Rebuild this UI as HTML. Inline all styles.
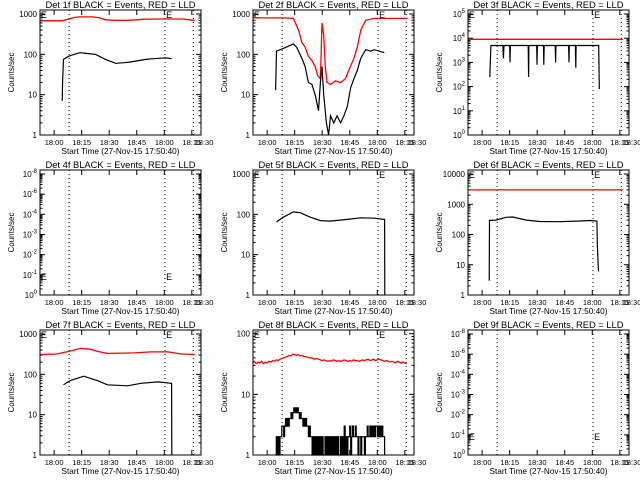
<!DOCTYPE html>
<html><head><meta charset="utf-8"><style>
html,body{margin:0;padding:0;background:#fff;}
svg{display:block;font-family:"Liberation Sans",sans-serif;}
</style></head><body>
<svg id="chart" width="640" height="480" viewBox="0 0 640 480" xmlns="http://www.w3.org/2000/svg"></svg>
<script>
// ---- data (time in minutes relative to 18:00) ----
const xTickTimes = [0, 15, 30, 45, 60, 75, 80];
const xTickLabels = ["18:00","18:15","18:30","18:45","18:00","18:15","18:30"];
const dottedTimes = [8.2, 60.4, 75.8];

const p1BlackT = [4.4,4.6,5.1,8,11,14,18,22.5,28,33.5,38,42,46,50,54,58,61,64];
const p1BlackV = [7,22,75,90,100,110,105,100,75,60,62,65,70,75,78,80,82,78];
const p1RedT = [-7.7,4.4,8,11,14,21,25,28,33,40,45,48,55,62,70,75.8,76.5];
const p1RedV = [680,680,750,820,850,850,800,720,700,700,720,740,750,750,750,700,680];

const p2BlackT = [4.6,5.1,8.8,14.3,16.1,18.9,20.7,22.5,24.4,26.2,28.0,29.0,29.9,30.8,32.3,33.5,34.5,36.3,38.1,40.0,41.8,43.6,45.5,47.3,49.1,51.0,53.7,56.5,58.3,61.0,63.8];
const p2BlackV = [13,120,140,180,150,80,50,20,18,10,4,20,50,10,2,1,3,2,3,2,3,5,15,25,40,80,130,120,130,120,110];
const p2RedT = [-7.7,8.8,14.3,17.1,18.9,20.7,22.5,24.4,26.2,27.5,29.0,29.9,30.8,31.7,32.6,34.5,37.2,40.0,42.7,44.5,47.3,49.1,51.0,53.7,58.3,76.6];
const p2RedV = [800,800,780,400,200,150,90,70,50,30,25,600,300,50,20,18,22,20,25,40,80,150,400,700,780,780];

const p3BlackT = [4.2,4.8,5.0,11.3,11.6,11.9,15.0,15.2,15.4,25.1,25.3,25.5,29.7,29.9,30.1,33.4,33.6,33.8,39.8,40.0,40.2,47.1,47.3,47.5,50.8,51.0,51.2,63.5,63.8];
const p3BlackV = [250,5000,5000,5000,1500,5000,5000,1000,5000,5000,250,5000,5000,800,5000,5000,800,5000,5000,1000,5000,5000,1000,5000,5000,600,5000,5000,80];
const p3RedT = [-7.7, 76.6];
const p3RedV = [9000, 9000];

const p5BlackT = [5.1,8.8,14.3,18,23.5,29,34.5,43.6,51,58.3,63.8,64,64.1];
const p5BlackV = [65,85,115,110,85,70,68,75,82,80,75,75,1];

const p6BlackT = [3.85,4.0,7.5,13,16.7,24,31.4,42.4,53.4,58.8,62.5,62.8,63.4];
const p6BlackV = [3,290,300,370,380,300,270,265,280,290,280,40,6];
const p6RedT = [-7.7, 76.6];
const p6RedV = [3000, 3000];

const p7BlackT = [5.1,8.8,16.1,23.5,29,40,47.3,56.5,63.8,64,64.1];
const p7BlackV = [55,70,90,70,55,52,60,65,60,60,1];
const p7RedT = [-7.7,1.5,8.8,14.3,19.8,23.5,29,43.6,52.8,62,69.3,76.6];
const p7RedV = [310,320,380,440,420,370,330,340,360,360,320,310];

const p8RedStart = -8, p8RedStep = 1;
const p8RedV = [33,35,32,34,33,35,32,34,33,35,34,36,35,37,36,38,39,40,41,42,44,43,46,45,44,45,43,44,42,42,41,40,40,39,38,39,38,37,36,37,36,35,36,35,37,36,35,36,35,36,37,36,35,36,35,37,36,36,35,36,37,36,37,38,36,37,38,36,37,38,37,36,35,36,35,34,35,34,33,35,34,33,34,33,32];
const p8BlackStart = 4.5, p8BlackStep = 0.5;
const p8BlackV = [1,2,1,2,1,2,2,3, 3,2,3,4,3,4,3,4, 4,5,4,5,6,5,6,5, 6,5,4,5,4,4,3,4, 3,4,3,3,2,3,2,2, 1,2,1,2,1,2,1,2, 1,2,1,2,1,1,2,1, 2,1,2,1,2,1,2,1, 2,1,2,1,2,1,1,2, 1,2,1,3,1,2,1,2, 2,3,1,2,3,2,2,3, 2,2,1,2,2,1,2,2, 2,1,2,2,3,2,2,3, 2,3,2,3,2,3,3,2, 3,2,3,2,3,2,2,1];

function seqT(start, step, n){ const a=[]; for(let i=0;i<n;i++) a.push(start+i*step); return a; }

const NS="http://www.w3.org/2000/svg";
const svg=document.getElementById('chart');
function mk(tag, attrs, parent){ const e=document.createElementNS(NS,tag); for(const k in attrs) e.setAttribute(k,attrs[k]); (parent||svg).appendChild(e); return e; }

const colLeft=[40,253,468], rowTop=[10,170,330], W=161, H=125;
const T0=-7.7, T1=80;

const panels = [
 {n:1,c:0,r:0,top:1257,labels:["1","10","100","1000"],series:[[p1RedT,p1RedV,'red'],[p1BlackT,p1BlackV,'black']],eTop:true},
 {n:2,c:1,r:0,top:1257,labels:["1","10","100","1000"],series:[[p2RedT,p2RedV,'red'],[p2BlackT,p2BlackV,'black']],eTop:true},
 {n:3,c:2,r:0,top:147000,labels:["10|0","10|1","10|2","10|3","10|4","10|5"],series:[[p3RedT,p3RedV,'red'],[p3BlackT,p3BlackV,'black']],eTop:true},
 {n:4,c:0,r:1,top:1.2e6,labels:["10|0","10|-1","10|-2","10|-3","10|-4","10|-6","10|-8"],series:[],eTop:false,dummy:true},
 {n:5,c:1,r:1,top:1257,labels:["1","10","100","1000"],series:[[p5BlackT,p5BlackV,'black']],eTop:true},
 {n:6,c:2,r:1,top:13600,labels:["1","10","100","1000","10000"],series:[[p6RedT,p6RedV,'red'],[p6BlackT,p6BlackV,'black']],eTop:true},
 {n:7,c:0,r:2,top:1257,labels:["1","10","100","1000"],series:[[p7RedT,p7RedV,'red'],[p7BlackT,p7BlackV,'black']],eTop:true},
 {n:8,c:1,r:2,top:115,labels:["1","10","100"],series:[[seqT(p8RedStart,p8RedStep,p8RedV.length),p8RedV,'red'],[seqT(p8BlackStart,p8BlackStep,p8BlackV.length),p8BlackV,'black',true]],eTop:true},
 {n:9,c:2,r:2,top:1.2e6,labels:["10|0","10|-1","10|-2","10|-3","10|-4","10|-6","10|-8"],series:[],eTop:false,dummy:true}
];

panels.forEach(p=>{
  const L=colLeft[p.c], Tp=rowTop[p.r], B=Tp+H;
  const g=mk('g',{});
  
  
  const xs=t=>L+(t-T0)/(T1-T0)*W;
  const logTop=Math.log10(p.top);
  const ys=v=>B-(Math.log10(Math.max(v,1)))/logTop*H;
  const decPx = H/logTop;
  const title=mk('text',{x:L+W/2,y:Tp-2,'text-anchor':'middle','font-size':'9',textLength:'150',lengthAdjust:'spacingAndGlyphs'},g);
  title.textContent='Det '+p.n+'f BLACK = Events, RED = LLD';
  
  
  const nlab=p.labels.length;
  for(let i=0;i<nlab;i++){
    const y = p.dummy ? B - i*(H-4)/(nlab-1) : B - i*decPx;
    mk('line',{x1:L,x2:L+5,y1:y,y2:y,stroke:'#000'},g);
    mk('line',{x1:L+W-5,x2:L+W,y1:y,y2:y,stroke:'#000'},g);
    const parts=p.labels[i].split('|');
    const tx=mk('text',{x:L-3,y:y+3,'text-anchor':'end','font-size':'8'},g);
    
    
    if(parts.length===1){ tx.textContent=parts[0]; }
    else { tx.textContent=parts[0]; const s=mk('tspan',{dy:'-4','font-size':'6'},tx); s.textContent=parts[1]; }
    if(i<nlab-1){
      const step = p.dummy ? (H-4)/(nlab-1) : decPx;
      for(let m=2;m<10;m++){
        const my=y-Math.log10(m)*step;
        mk('line',{x1:L,x2:L+2.5,y1:my,y2:my,stroke:'#000'},g);
        mk('line',{x1:L+W-2.5,x2:L+W,y1:my,y2:my,stroke:'#000'},g);
      }
    }
  }
  xTickTimes.forEach((t,i)=>{
    const x=xs(t);
    const last = i===xTickTimes.length-1;
    if(!last){
      mk('line',{x1:x,x2:x,y1:B,y2:B-5,stroke:'#000'},g);
      mk('line',{x1:x,x2:x,y1:Tp,y2:Tp+5,stroke:'#000'},g);
    }
    const tl=mk('text',{x:last?x+3:x,y:B+10,'text-anchor':'middle','font-size':'7.5'},g);
    tl.textContent=xTickLabels[i];
    
    
  });
  const xt=mk('text',{x:L+W/2,y:B+19,'text-anchor':'middle','font-size':'8.5',textLength:'118',lengthAdjust:'spacingAndGlyphs'},g);
  xt.textContent='Start Time (27-Nov-15 17:50:40)';
  
  
  const yt=mk('text',{x:0,y:0,'text-anchor':'middle','font-size':'8',transform:`translate(${L-26},${Tp+H/2}) rotate(-90)`},g);
  yt.textContent='Counts/sec';
  
  
  dottedTimes.forEach(t=>{
    const dl=mk('line',{x1:xs(t),x2:xs(t),y1:Tp,y2:B,stroke:'#000','stroke-dasharray':'1 3'},g);
    
    
  });
  const eY = p.eTop ? Tp+8 : B-15;
  [-7.2,61].forEach(t=>{
    const e=mk('text',{x:xs(t),y:eY,'font-size':'9'},g);
    e.textContent='E';
    
    
  });
  p.series.forEach(s=>{
    const [tt,vv,col,step]=s;
    let d='';
    for(let i=0;i<tt.length;i++){
      const x=xs(tt[i]).toFixed(1), y=ys(vv[i]).toFixed(1);
      if(i===0) d+='M'+x+' '+y;
      else if(step) d+='H'+x+'V'+y;
      else d+='L'+x+' '+y;
    }
    const path=mk('path',{d:d,fill:'none',stroke:col==='red'?'#ff0000':'#000','stroke-width':col==='red'?1.3:1.2},g);
    
    
  });
  const box=mk('rect',{x:L,y:Tp,width:W,height:H,fill:'none',stroke:'#000'},g);
  
  
});
</script>
</body></html>
